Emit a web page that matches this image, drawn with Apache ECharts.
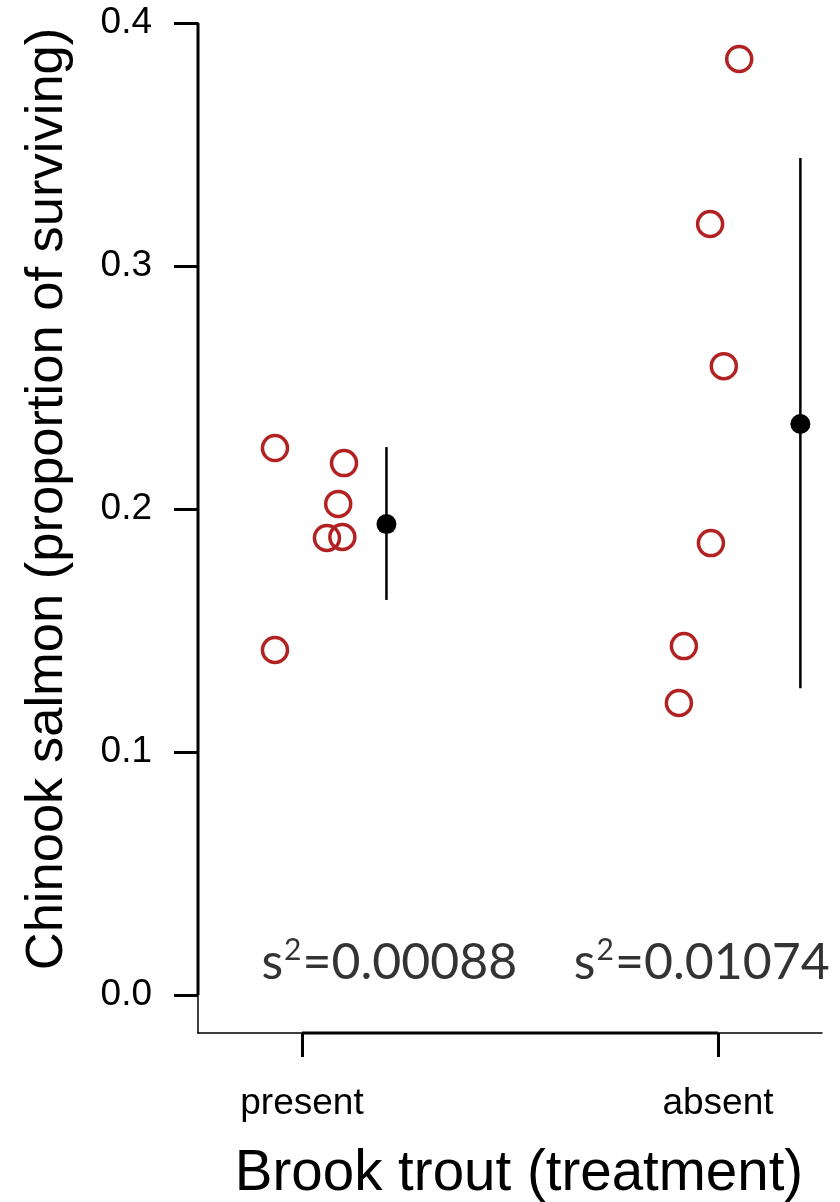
<!DOCTYPE html>
<html>
<head>
<meta charset="utf-8">
<script src="https://cdn.jsdelivr.net/npm/echarts@6/dist/echarts.min.js"></script>
<style>
  html, body { margin: 0; padding: 0; background: #fff; }
  #chart { width: 840px; height: 1202px; }
</style>
</head>
<body>
<div id="chart"></div>
<script>
// ---- data ----
const categories = ['present', 'absent'];
const categoryPos = [1, 2];
const presentX = [0.935, 1.101, 1.087, 1.060, 1.097, 0.935];
const presentY = [0.2251, 0.2189, 0.2021, 0.1881, 0.1885, 0.1420];
const absentX = [2.051, 1.981, 2.014, 1.983, 1.918, 1.906];
const absentY = [0.3852, 0.3173, 0.2588, 0.1860, 0.1436, 0.1202];
const meanX = [1.203, 2.198];
const meanY = [0.1938, 0.2350];
const lowerY = [0.1626, 0.1263];
const upperY = [0.2255, 0.3444];
const yTicks = [0, 0.1, 0.2, 0.3, 0.4];
const annotX = [1.210, 1.961];
const annotY = [0.0134, 0.0134];
const annotVar = ['0.00088', '0.01074'];
const xMin = 0.75, xMax = 2.25, yMin = -0.0156, yMax = 0.4;

const chart = echarts.init(document.getElementById('chart'), null, { renderer: 'canvas' });

const pointData = presentX.map((x, i) => [x, presentY[i]])
  .concat(absentX.map((x, i) => [x, absentY[i]]));
const meanData = meanX.map((x, i) => [x, meanY[i]]);
const errData = meanX.map((x, i) => [x, lowerY[i], upperY[i]]);
const annotData = annotX.map((x, i) => ({ value: [x, annotY[i]], text: annotVar[i] }));

const option = {
  animation: false,
  backgroundColor: '#ffffff',
  grid: { left: 198, right: 18, top: 23, bottom: 169, containLabel: false, outerBoundsMode: 'none' },
  xAxis: {
    type: 'value', min: xMin, max: xMax,
    name: 'Brook trout (treatment)', nameLocation: 'middle', nameGap: 113,
    nameTextStyle: { fontFamily: 'Liberation Sans', fontSize: 56.5, color: '#000', padding: [0, 0, 0, 18] },
    axisLine: { show: true, onZero: false, lineStyle: { color: '#000', width: 1.5 } },
    axisTick: { show: true, customValues: categoryPos, length: 24, lineStyle: { color: '#000', width: 3 } },
    axisLabel: {
      show: true, customValues: categoryPos, margin: 52,
      formatter: v => categories[categoryPos.indexOf(Math.round(v))] || '',
      fontFamily: 'Liberation Sans', fontSize: 37, color: '#000'
    },
    splitLine: { show: false }
  },
  yAxis: {
    type: 'value', min: yMin, max: yMax,
    axisLine: { show: true, onZero: false, lineStyle: { color: '#000', width: 1.5 } },
    axisTick: { show: true, customValues: yTicks, length: 24, lineStyle: { color: '#000', width: 3 } },
    axisLabel: {
      show: true, customValues: yTicks, margin: 46,
      formatter: v => v.toFixed(1),
      fontFamily: 'Liberation Sans', fontSize: 37, color: '#000'
    },
    splitLine: { show: false }
  },
  graphic: [{
    type: 'text', x: 48, y: 499, rotation: Math.PI / 2,
    style: {
      text: 'Chinook salmon (proportion of surviving)',
      font: '52.5px "Liberation Sans"', fill: '#000',
      textAlign: 'center', textVerticalAlign: 'middle'
    }
  }],
  series: [
    {
      type: 'custom', name: 'axisSegments', silent: true, z: 5,
      data: [[0]],
      renderItem: (params, api) => {
        const a = api.coord([categoryPos[0], yMin]);
        const b = api.coord([categoryPos[categoryPos.length - 1], yMin]);
        const c = api.coord([xMin, yTicks[0]]);
        const d = api.coord([xMin, yTicks[yTicks.length - 1]]);
        return {
          type: 'group', children: [
            { type: 'line', shape: { x1: a[0], y1: a[1], x2: b[0], y2: b[1] }, style: { stroke: '#000', lineWidth: 3 } },
            { type: 'line', shape: { x1: c[0], y1: c[1], x2: d[0], y2: d[1] }, style: { stroke: '#000', lineWidth: 3 } }
          ]
        };
      }
    },
    {
      type: 'custom', name: 'errorBars', silent: true,
      data: errData,
      renderItem: (params, api) => {
        const p1 = api.coord([api.value(0), api.value(1)]);
        const p2 = api.coord([api.value(0), api.value(2)]);
        return { type: 'line', shape: { x1: p1[0], y1: p1[1], x2: p2[0], y2: p2[1] }, style: { stroke: '#000', lineWidth: 2.5 } };
      }
    },
    {
      type: 'scatter', name: 'observations', data: pointData,
      symbol: 'circle', symbolSize: 25,
      itemStyle: { color: 'rgba(0,0,0,0)', borderColor: '#B22222', borderWidth: 3.5, opacity: 1 }
    },
    {
      type: 'scatter', name: 'means', data: meanData,
      symbol: 'circle', symbolSize: 20, z: 4,
      itemStyle: { color: '#000', opacity: 1 }
    },
    {
      type: 'scatter', name: 'variance', data: annotData, symbolSize: 0, silent: true,
      label: {
        show: true, position: 'inside',
        formatter: p => '{a|s}{b|2}{a|=' + p.data.text + '}',
        rich: {
          a: { fontFamily: 'Lato', fontSize: 50, lineHeight: 60, color: '#000' },
          b: { fontFamily: 'Lato', fontSize: 30, lineHeight: 30, color: '#000', padding: [0, 1, 24, 1] }
        }
      }
    }
  ]
};
chart.setOption(option);
</script>
</body>
</html>
